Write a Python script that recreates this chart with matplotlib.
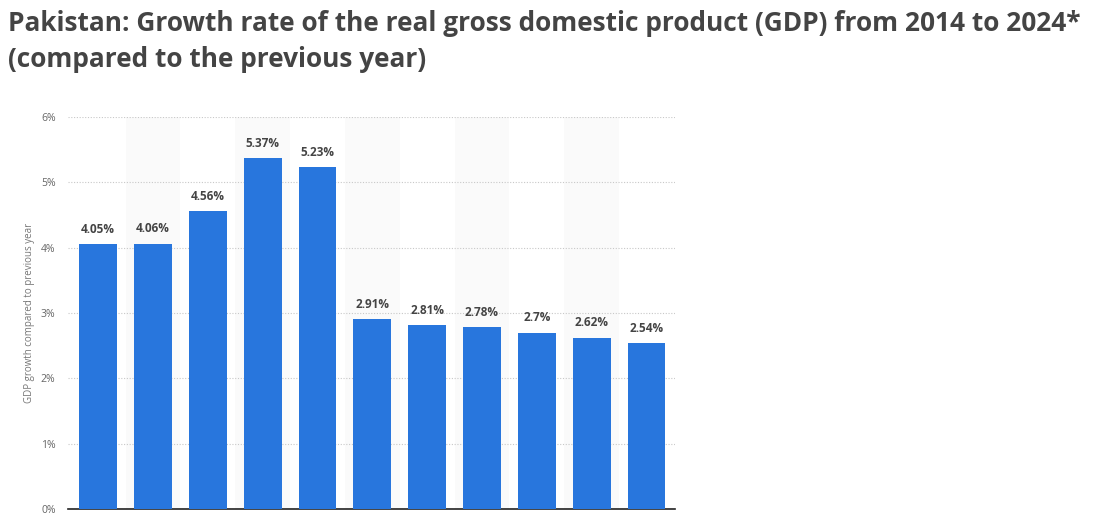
import matplotlib.pyplot as plt
import numpy as np

years = ["2014", "2015", "2016", "2017", "2018", "2019", "2020", "2021", "2022", "2023", "2024*"]
growth = [4.05, 4.06, 4.56, 5.37, 5.23, 2.91, 2.81, 2.78, 2.7, 2.62, 2.54]
labels = ["4.05%", "4.06%", "4.56%", "5.37%", "5.23%", "2.91%", "2.81%", "2.78%", "2.7%", "2.62%", "2.54%"]

plt.rcParams['font.family'] = ['Open Sans', 'DejaVu Sans']

fig = plt.figure(figsize=(10.99, 5.19), dpi=100)
ax = fig.add_axes([68 / 1099, 10 / 519, (675 - 68) / 1099, (509 - 117) / 519])

x = np.arange(len(growth))
ax.set_xlim(-0.55, len(growth) - 0.48)
ax.set_ylim(0, 6)

# alternating shaded columns
for i in x:
    if i % 2 == 1:
        ax.axvspan(i - 0.5, i + 0.5, color="#fafafa", zorder=0, lw=0)

ax.set_yticks(range(0, 7))
ax.set_yticklabels([f"{v}%" for v in range(0, 7)])
ax.yaxis.grid(True, color="#c8c8c8", linestyle=(0, (1, 1.5)), linewidth=0.8)
ax.set_axisbelow(True)

ax.bar(x, growth, width=0.69, color="#2876dd", zorder=3)

for xi, v, t in zip(x, growth, labels):
    ax.annotate(t, (xi, v), xytext=(0, 6), textcoords="offset points",
                ha="center", va="bottom", fontsize=8.5, fontweight="bold", color="#444444")

for s in ["top", "right", "left"]:
    ax.spines[s].set_visible(False)
ax.spines["bottom"].set_color("#222222")
ax.spines["bottom"].set_linewidth(1.2)
ax.set_xticks([])
ax.tick_params(axis="y", length=0, labelsize=7.5, labelcolor="#666666", pad=9)
ax.set_ylabel("GDP growth compared to previous year", fontsize=7, color="#777777", labelpad=4)

fig.text(8 / 1099, 1 - 31 / 519, "Pakistan: Growth rate of the real gross domestic product (GDP) from 2014 to 2024*",
         fontsize=18.9, fontweight="bold", color="#444444", ha="left", va="baseline")
fig.text(8 / 1099, 1 - 67 / 519, "(compared to the previous year)",
         fontsize=18.9, fontweight="bold", color="#444444", ha="left", va="baseline")

fig.savefig("out.png", dpi=100)
